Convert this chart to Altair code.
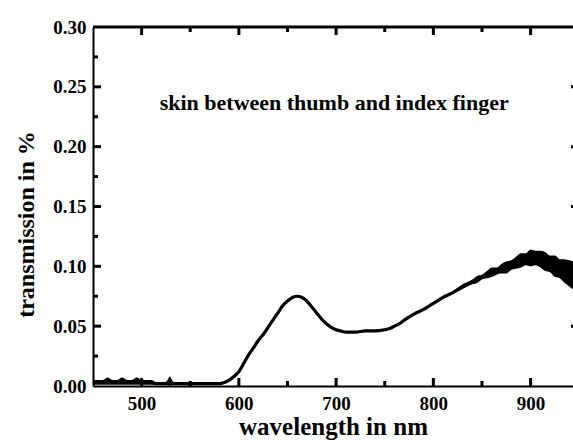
import altair as alt
import pandas as pd

# Transmission spectrum of the skin between thumb and index finger
wavelength = [450, 455, 460, 465, 470, 475, 480, 485, 490, 495, 500, 505, 510, 515,
              520, 525, 529, 533, 540, 550, 560, 570, 580, 585, 590, 595, 600, 605,
              610, 615, 620, 625, 630, 635, 640, 645, 650, 655, 660, 665, 670, 675,
              680, 685, 690, 695, 700, 705, 710, 720, 730, 740, 750, 755, 760, 765, 770,
              780, 790, 800, 810, 820, 830, 840, 845, 850, 855, 860, 865, 870, 875,
              880, 885, 890, 895, 900, 905, 910, 915, 920, 925, 930, 935, 940, 945]
transmission = [0.003, 0.003, 0.003, 0.004, 0.003, 0.003, 0.004, 0.003, 0.003, 0.004,
                0.003, 0.003, 0.003, 0.002, 0.002, 0.002, 0.004, 0.002, 0.002, 0.002,
                0.002, 0.002, 0.002, 0.003, 0.005, 0.008, 0.012, 0.019, 0.026, 0.032,
                0.038, 0.043, 0.049, 0.055, 0.061, 0.067, 0.071, 0.074, 0.075, 0.074,
                0.071, 0.066, 0.061, 0.056, 0.052, 0.049, 0.047, 0.046, 0.045, 0.045,
                0.046, 0.046, 0.047, 0.048, 0.050, 0.052, 0.055, 0.060, 0.064, 0.069, 0.074,
                0.078, 0.083, 0.087, 0.089, 0.091, 0.093, 0.095, 0.096, 0.098, 0.099,
                0.101, 0.103, 0.105, 0.106, 0.107, 0.107, 0.106, 0.104, 0.102, 0.100,
                0.098, 0.096, 0.094, 0.092]
# half-width of the measurement noise around the curve
noise = [0.002, 0.002, 0.002, 0.003, 0.002, 0.002, 0.003, 0.002, 0.002, 0.003,
         0.002, 0.002, 0.002, 0.001, 0.001, 0.001, 0.004, 0.001, 0.001, 0.001,
         0.001, 0.001, 0.001, 0.0, 0.0, 0.0, 0.0, 0.0, 0.0, 0.0,
         0.0, 0.0, 0.0, 0.0, 0.0, 0.0, 0.0, 0.0, 0.0, 0.0,
         0.0, 0.0, 0.0, 0.0, 0.0, 0.0, 0.0, 0.0, 0.0, 0.0,
         0.0, 0.0, 0.0, 0.0, 0.0, 0.0, 0.0, 0.0, 0.001, 0.001, 0.001,
         0.001, 0.002, 0.002, 0.003, 0.002, 0.003, 0.004, 0.003, 0.004, 0.005,
         0.004, 0.005, 0.006, 0.005, 0.007, 0.006, 0.007, 0.008, 0.007, 0.009,
         0.008, 0.010, 0.011, 0.012]

x_major = [500, 600, 700, 800, 900]
x_minor = [550, 650, 750, 850]
y_major = [0.05, 0.10, 0.15, 0.20, 0.25]
y_minor = [0.025, 0.075, 0.125, 0.175, 0.225, 0.275]
y_labels = [0.0, 0.05, 0.10, 0.15, 0.20, 0.25, 0.30]

note_text = ["skin between thumb and index finger"]
note_x = [698]
note_y = [0.231]

W, H = 480, 359
X0, X1 = 450, 943.6
Y0, Y1 = 0.0, 0.30
FONT = "Liberation Serif"
PX_X = (X1 - X0) / W          # data units per pixel, x
PX_Y = (Y1 - Y0) / H          # data units per pixel, y
MAJOR, MINOR = 8, 5            # inward tick lengths in pixels

spec = pd.DataFrame({"wl": wavelength, "t": transmission, "n": noise})
spec["lo"] = spec["t"] - spec["n"]
spec["hi"] = spec["t"] + spec["n"]

xs = alt.Scale(domain=[X0, X1], nice=False, zero=False)
ys = alt.Scale(domain=[Y0, Y1], nice=False)

x_axis = alt.Axis(values=x_major, format="d", tickSize=0, domainWidth=2, domainColor="black",
                  labelFont=FONT, labelFontWeight="bold", labelFontSize=19, labelColor="black",
                  labelPadding=8, title="wavelength in nm", titleFont=FONT,
                  titleFontWeight="bold", titleFontSize=25, titleColor="black",
                  titleBaseline="alphabetic", titleY=48, grid=False)
y_axis = alt.Axis(values=y_labels, format=".2f", tickSize=0, domainWidth=2, domainColor="black",
                  labelFont=FONT, labelFontWeight="bold", labelFontSize=19, labelColor="black",
                  labelPadding=7, title="transmission in %", titleFont=FONT,
                  titleFontWeight="bold", titleFontSize=24, titleColor="black",
                  titleAngle=-90, titleBaseline="alphabetic", titleAlign="center",
                  titleX=-60, titleY=197, grid=False)

# top border and inward ticks, built from the tick value lists
segs = [{"fx": X0, "fx2": X1, "fy": Y1, "fy2": Y1}]
for v in x_major:
    segs.append({"fx": v, "fx2": v, "fy": Y0, "fy2": Y0 + MAJOR * PX_Y})
    segs.append({"fx": v, "fx2": v, "fy": Y1, "fy2": Y1 - MAJOR * PX_Y})
for v in x_minor:
    segs.append({"fx": v, "fx2": v, "fy": Y0, "fy2": Y0 + MINOR * PX_Y})
    segs.append({"fx": v, "fx2": v, "fy": Y1, "fy2": Y1 - MINOR * PX_Y})
for v in y_major:
    segs.append({"fx": X0, "fx2": X0 + MAJOR * PX_X, "fy": v, "fy2": v})
    segs.append({"fx": X1 - 2 * PX_X, "fx2": X1, "fy": v, "fy2": v})
for v in y_minor:
    segs.append({"fx": X0, "fx2": X0 + MINOR * PX_X, "fy": v, "fy2": v})
seg_df = pd.DataFrame(segs)

frame = alt.Chart(seg_df).mark_rule(color="#000000", strokeWidth=3).encode(
    x=alt.X("fx:Q", scale=xs, axis=x_axis),
    x2="fx2:Q",
    y=alt.Y("fy:Q", scale=ys, axis=y_axis),
    y2="fy2:Q",
)

band = alt.Chart(spec).mark_area(color="black", opacity=1, clip=True,
                                 interpolate="monotone").encode(
    x=alt.X("wl:Q", scale=xs),
    y=alt.Y("lo:Q", scale=ys),
    y2="hi:Q",
)
line = alt.Chart(spec).mark_line(color="black", strokeWidth=3.2, clip=True,
                                 interpolate="monotone").encode(
    x=alt.X("wl:Q", scale=xs),
    y=alt.Y("t:Q", scale=ys),
)

note = alt.Chart(pd.DataFrame({"nx": note_x, "ny": note_y, "s": note_text})).mark_text(
    font=FONT, fontWeight="bold", fontSize=22, color="black", align="center",
    baseline="alphabetic"
).encode(x=alt.X("nx:Q", scale=xs), y=alt.Y("ny:Q", scale=ys), text="s:N")

chart = alt.layer(frame, band, line, note).properties(
    width=W, height=H,
    autosize=alt.AutoSizeParams(type="none"),
    padding={"left": 93, "top": 27, "right": 0, "bottom": 54},
    background="white",
).configure_view(stroke=None)

chart.save("out.html", embed_options={"renderer": "svg", "actions": False})
